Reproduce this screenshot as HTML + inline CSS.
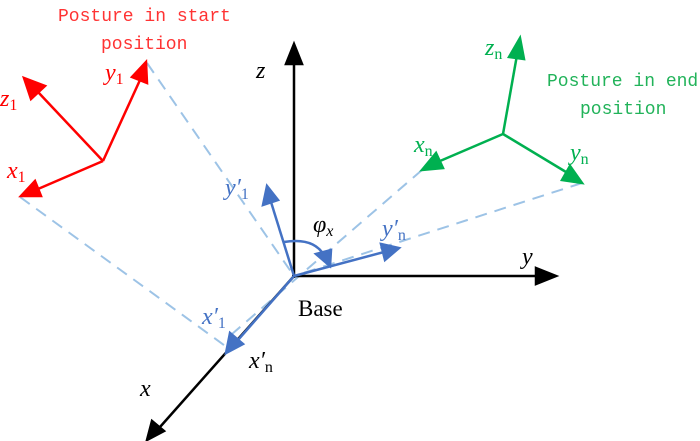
<!DOCTYPE html>
<html><head><style>body{margin:0;background:#fff}svg{display:block}</style></head><body>
<svg width="700" height="441" viewBox="0 0 700 441" xmlns="http://www.w3.org/2000/svg" font-family="Liberation Serif, serif">
<g stroke="#9dc3e6" stroke-width="2" stroke-dasharray="12,8" fill="none">
<line x1="147" y1="63" x2="294" y2="276"/>
<line x1="20" y1="197" x2="228" y2="348"/>
<line x1="422" y1="170" x2="232" y2="334"/>
<line x1="582" y1="183" x2="294" y2="276"/>
</g>
<g stroke="#000" stroke-width="2.5" fill="#000">
<line x1="294" y1="278" x2="294" y2="62"/><path d="M286,64 L294,44 L302,64z"/>
<line x1="292" y1="276" x2="538" y2="276"/><path d="M536,268 L556,276 L536,284z"/>
<line x1="294" y1="276" x2="160" y2="427"/><path d="M152,421 L147,440 L164,431z"/>
</g>
<g stroke="#4472c4" stroke-width="2.5" fill="#4472c4">
<line x1="294" y1="276" x2="271" y2="202"/><path d="M263,205 L267,186 L278,200z"/>
<line x1="294" y1="276" x2="384" y2="252"/><path d="M381,244 L399,248 L385,260z"/>
<line x1="294" y1="276" x2="238" y2="340"/><path d="M230,333 L226,353 L243,344z"/>
<path d="M284,242 Q315,237 325,257" fill="none"/><path d="M316,254 L330,266 L331,250z"/>
</g>
<g stroke="#ff0000" stroke-width="2.5" fill="#ff0000">
<line x1="103" y1="161" x2="38" y2="92"/><path d="M31,99 L24,78 L45,86z"/>
<line x1="103" y1="161" x2="140" y2="80"/><path d="M132,77 L146,62 L147,83z"/>
<line x1="103" y1="161" x2="38" y2="189"/><path d="M35,181 L21,196 L41,196z"/>
</g>
<g stroke="#00b050" stroke-width="2.5" fill="#00b050">
<line x1="503" y1="134" x2="517" y2="55"/><path d="M509,57 L520,38 L524,59z"/>
<line x1="503" y1="134" x2="440" y2="161"/><path d="M436,153 L422,170 L443,168z"/>
<line x1="503" y1="134" x2="566" y2="172"/><path d="M562,180 L582,183 L570,166z"/>
</g>
<g font-family="Liberation Mono, DejaVu Sans Mono, monospace" font-size="18">
<text x="58" y="21" fill="#ff3333">Posture in start</text>
<text x="101" y="49" fill="#ff3333">position</text>
<text x="547" y="86" fill="#22b35a">Posture in end</text>
<text x="580" y="114" fill="#22b35a">position</text>
</g>
<g font-size="24" font-style="italic">
<text x="256" y="78">z</text>
<text x="522" y="264">y</text>
<text x="140" y="396">x</text>
<text x="105" y="80" fill="#ff0000">y<tspan font-size="16" font-style="normal" dy="4">1</tspan></text>
<text x="0" y="106" fill="#ff0000">z<tspan font-size="16" font-style="normal" dy="4">1</tspan></text>
<text x="7" y="178" fill="#ff0000">x<tspan font-size="16" font-style="normal" dy="4">1</tspan></text>
<text x="485" y="55" fill="#00b050">z<tspan font-size="16" font-style="normal" dy="4">n</tspan></text>
<text x="414" y="152" fill="#00b050">x<tspan font-size="16" font-style="normal" dy="4">n</tspan></text>
<text x="570" y="160" fill="#00b050">y<tspan font-size="16" font-style="normal" dy="4">n</tspan></text>
<text x="225" y="195" fill="#4472c4">y′<tspan font-size="16" font-style="normal" dy="4">1</tspan></text>
<text x="382" y="236" fill="#4472c4">y′<tspan font-size="16" font-style="normal" dy="4">n</tspan></text>
<text x="202" y="324" fill="#4472c4">x′<tspan font-size="16" font-style="normal" dy="4">1</tspan></text>
<text x="249" y="368">x′<tspan font-size="16" font-style="normal" dy="4">n</tspan></text>
<text x="313" y="232">φ<tspan font-size="16" dy="4">x</tspan></text>
</g>
<text x="298" y="316" font-size="23">Base</text>
</svg>
</body></html>
